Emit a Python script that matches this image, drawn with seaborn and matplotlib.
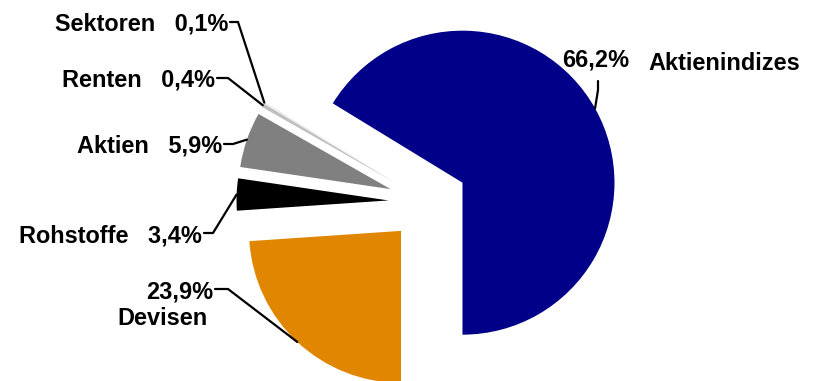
import numpy as np
import matplotlib
matplotlib.use("Agg")
import matplotlib.pyplot as plt
import seaborn as sns

# data
categories = ["Aktienindizes", "Sektoren", "Renten", "Aktien", "Rohstoffe", "Devisen"]
shares = [66.2, 0.1, 0.4, 5.9, 3.4, 23.9]
share_labels = ["66,2%", "0,1%", "0,4%", "5,9%", "3,4%", "23,9%"]
colors = ["#000088", "#E4E4E4", "#C0C0C0", "#808080", "#000000", "#E08600"]

sns.set_theme(style="white")
plt.rcParams["font.family"] = ["Liberation Sans", "DejaVu Sans"]
plt.rcParams["text.color"] = "black"

W, H = 816, 381
R_PX = 152.0          # pie radius in pixels
CX, CY = 428, 202     # pie centre in pixels (from top-left)


def px(x, y):
    # pixel position -> data coords (radius 1 == R_PX)
    return (x - CX) / R_PX, (CY - y) / R_PX


fig = plt.figure(figsize=(W / 100, H / 100), dpi=100)
ax = fig.add_axes([0, 0, 1, 1])

wedges, _ = ax.pie(shares, colors=colors, startangle=-90, counterclock=True,
                   explode=[0.26] * len(shares), radius=1,
                   wedgeprops=dict(linewidth=0))

x0, y1 = px(0, 0)
x1, y0 = px(W, H)
ax.set_xlim(x0, x1)
ax.set_ylim(y0, y1)
ax.set_aspect("auto")
ax.axis("off")

# label layout (pixels): text anchor and elbow points of the leader line
layout = {
    "Aktienindizes": dict(line=[(598, 81), (598, 90)]),
    "Sektoren": dict(text=(228, 30), line=[(230, 22), (238, 22)]),
    "Renten": dict(text=(215, 87), line=[(217, 78), (228, 78)]),
    "Aktien": dict(text=(222, 152), line=[(224, 144), (233, 144)]),
    "Rohstoffe": dict(text=(202, 242), line=[(204, 233), (213, 233)]),
    "Devisen": dict(line=[(215, 289), (228, 289)]),
}

fs = 16.9
txt = dict(fontsize=fs, fontweight="bold", color="black", va="baseline")
for w, cat, lab in zip(wedges, categories, share_labels):
    mid = np.deg2rad((w.theta1 + w.theta2) / 2)
    cx, cy = w.center
    anchor = (cx + w.r * np.cos(mid), cy + w.r * np.sin(mid))
    pts = [px(*p) for p in layout[cat]["line"]] + [anchor]
    ax.plot([p[0] for p in pts], [p[1] for p in pts], color="black", lw=1.6,
            solid_joinstyle="miter")
    if cat == "Aktienindizes":
        ax.text(*px(562, 66), lab, ha="left", **txt)
        ax.text(*px(648, 70), cat, ha="left", **txt)
    elif cat == "Devisen":
        ax.text(*px(213, 298), lab, ha="right", **txt)
        ax.text(*px(208, 325), cat, ha="right", **txt)
    else:
        ax.text(*px(*layout[cat]["text"]), f"{cat}   {lab}", ha="right", **txt)

fig.savefig("out.png", dpi=100)
